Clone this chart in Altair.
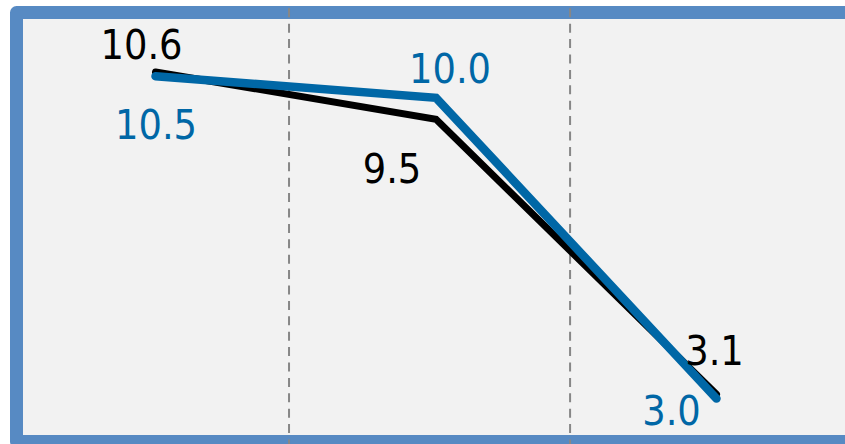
import altair as alt
import pandas as pd

# Three periods, two series
periods = [0, 1, 2]
black_values = [10.6, 9.5, 3.1]
blue_values = [10.5, 10.0, 3.0]
# Boundaries between period columns
boundaries = [0.476, 1.478]

BLACK = "#000000"
BLUE = "#0067a6"
FRAME = "#578ac3"
FONT = "Liberation Sans Narrow, DejaVu Sans Condensed, sans-serif"

W, H = 845, 444

df = pd.DataFrame(
    {
        "period": periods * 2,
        "value": black_values + blue_values,
        "series": ["black"] * 3 + ["blue"] * 3,
    }
)
df["label"] = df["value"].map(lambda v: f"{v:.1f}")
grid_df = pd.DataFrame({"boundary": boundaries})

x_scale = alt.Scale(domain=[-0.5544, 2.4581], nice=False, zero=False)
y_scale = alt.Scale(domain=[1.942, 12.275], nice=False, zero=False)
x_enc = alt.X("period:Q", scale=x_scale, axis=None)
y_enc = alt.Y("value:Q", scale=y_scale, axis=None)

base = alt.Chart(df)

# Panel frame: light fill with a thick blue border that runs off the right edge
frame = alt.Chart(pd.DataFrame({"k": [0]})).mark_rect(
    fill="#f2f2f2",
    stroke=FRAME,
    strokeWidth=13,
    strokeJoin="round",
    clip=True,
).encode(
    x=alt.value(16.5),
    x2=alt.value(920),
    y=alt.value(12.5),
    y2=alt.value(441.5),
)

grid = alt.Chart(grid_df).mark_rule(
    color="#878787", strokeWidth=2, strokeDash=[9, 6.4]
).encode(
    x=alt.X("boundary:Q", scale=x_scale, axis=None),
    y=alt.value(8.3),
    y2=alt.value(H),
)

black_line = base.transform_filter(alt.datum.series == "black").mark_line(
    color=BLACK, strokeWidth=7, strokeCap="round", strokeJoin="miter"
).encode(x=x_enc, y=y_enc)

blue_line = base.transform_filter(alt.datum.series == "blue").mark_line(
    color=BLUE, strokeWidth=8.5, strokeCap="round", strokeJoin="miter"
).encode(x=x_enc, y=y_enc)

# Label placement offsets (dx, dy) per series and period
offsets = {
    ("black", 0): (-14, -12.5),
    ("blue", 0): (0.5, 63),
    ("blue", 1): (14, -14.5),
    ("black", 1): (-44, 63.5),
    ("black", 2): (-2, -29.5),
    ("blue", 2): (-45, 26),
}

labels = []
for (series, period), (dx, dy) in offsets.items():
    labels.append(
        base.transform_filter(
            (alt.datum.series == series) & (alt.datum.period == period)
        )
        .mark_text(
            font=FONT,
            fontSize=41,
            color=BLACK if series == "black" else BLUE,
            align="center",
            baseline="alphabetic",
            dx=dx,
            dy=dy,
        )
        .encode(x=x_enc, y=y_enc, text="label:N")
    )

chart = (
    alt.layer(frame, grid, black_line, blue_line, *labels)
    .properties(width=W, height=H, padding=0, autosize=alt.AutoSizeParams(type="none"))
    .configure_view(stroke=None, fill="white")
)

chart.save("out.html", embed_options={"renderer": "svg", "actions": False})
